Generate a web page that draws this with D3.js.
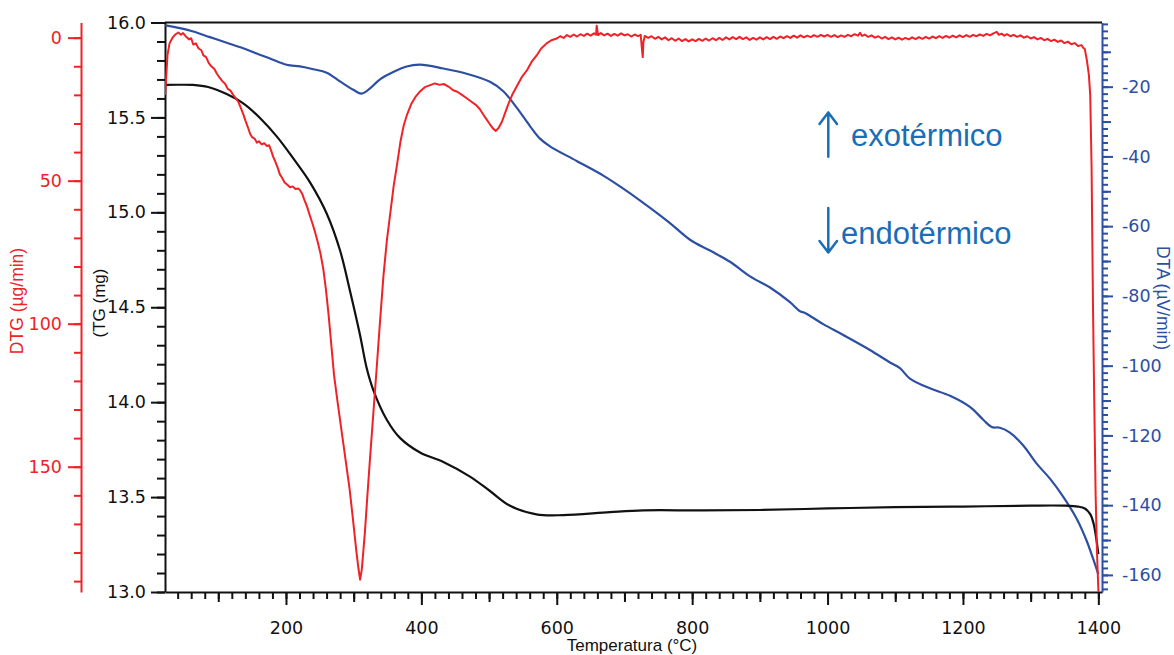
<!DOCTYPE html>
<html>
<head>
<meta charset="utf-8">
<script src="https://cdn.jsdelivr.net/npm/d3@7"></script>
<style>
  body { margin: 0; background: #fff; }
  svg { display: block; }
</style>
</head>
<body>
<svg id="chart" width="1174" height="655"></svg>
<script>
// Thermal analysis: TG (mass), DTG (mass-loss rate) and DTA vs temperature

// TG curve: [temperature °C, mass mg]
const tgCurve = [
  [21.3, 15.671], [40, 15.672], [62.6, 15.671], [85, 15.660], [112.4, 15.623],
  [136.9, 15.574], [161.6, 15.497], [186.3, 15.400], [210.8, 15.284], [235.5, 15.158],
  [260.1, 14.994], [279.8, 14.800], [294.5, 14.587], [309.3, 14.355], [319.2, 14.180],
  [329, 14.064], [348.7, 13.909], [368.4, 13.812], [398, 13.735], [432.5, 13.685],
  [471.8, 13.608], [501.3, 13.532], [531, 13.454], [570, 13.409], [609.6, 13.405],
  [678.6, 13.421], [727.8, 13.430], [811.5, 13.430], [900, 13.432], [1000, 13.440],
  [1100, 13.447], [1200, 13.450], [1300, 13.455], [1350, 13.455], [1370, 13.450],
  [1380, 13.440], [1388, 13.410], [1393, 13.360], [1397, 13.280], [1400, 13.200]
];

// DTG curve: [temperature °C, rate µg/min] (axis drawn increasing downwards)
const dtgCurve = [
  [21.5, 20], [23, 14], [25, 6], [28, 2], [33, -0.2], [37, -1.2], [41, -1.8], [45, -1.0],
  [48, -1.6], [53, -0.2], [57, 0.6], [60, 0.2], [63, 2.4], [67, 2.0], [71, 3.8], [75, 4.4],
  [78, 6.2], [82, 6.8], [86, 8.9], [90, 10.1], [94, 10.9], [98, 12.6], [102, 14], [106, 15.2],
  [110, 16.1], [114, 17.9], [118, 18.5], [122, 20.0], [126, 21.2], [130, 22.6], [134, 25.0],
  [137, 26.8], [140, 28.9], [144, 31.5], [147, 33.6], [150, 34.8], [154, 35.4], [157, 36.7],
  [160, 36.2], [164, 37.3], [168, 36.9], [172, 37.9], [175, 37.6], [178, 39.4], [181, 41.6],
  [184, 43.2], [188, 45.6], [191, 47.8], [194, 48.9], [198, 50.6], [202, 51.4], [206, 52.3],
  [210, 52.0], [214, 52.9], [218, 52.7], [221, 53.4], [224, 54.6], [227, 56.6], [231, 59.0],
  [235, 62.0], [239, 64.9], [243, 68.0], [247, 71.5], [251, 75.5], [255, 80.7], [259, 88.0],
  [263, 97.0], [267, 107.5], [271, 118], [276, 127], [282, 137.3], [288, 147.5], [294, 157.8],
  [299, 168.5], [304, 179.6], [307, 185.5], [309.5, 189.5], [312, 186], [316.5, 173.2],
  [320, 161], [324, 147.6], [329, 131.5], [334, 115.5], [339, 99], [344, 83.3], [349, 71],
  [354, 61.5], [359, 52], [364, 44.5], [369, 36.5], [374, 30.6], [379, 26.8], [385, 23.2],
  [391, 20.8], [398, 18.8], [405, 17.3], [413, 16.6], [420, 16.0], [427, 16.5], [433, 16.2],
  [440, 17.1], [447, 18.4], [453, 18.9], [460, 20.0], [467, 21.2], [474, 22.4], [481, 23.6],
  [487, 25.2], [494, 27.8], [501, 30.2], [506, 31.8], [510, 32.6], [514, 31.6], [519, 29.4],
  [524, 26.1], [529, 22.9], [535, 19.6], [541, 17.0], [548, 13.9], [556, 11.4], [563, 8.4],
  [570, 6.3], [577, 3.8], [585, 2.0], [592, 0.9],
  [600, 0.3], [605, -0.5], [610, 0.1], [615, -0.9], [620, -0.3], [625, -1.1], [630, -0.4],
  [635, -1.2], [640, -0.6], [645, -1.4], [650, -0.7], [655, -1.5], [658, -1.0], [659, -4.2],
  [661, -0.9], [665, -1.6], [670, -0.8], [675, -1.4], [680, -0.6], [685, -1.3], [690, -0.7],
  [695, -1.5], [700, -0.8], [705, -1.2], [710, -0.4], [715, -1.1], [720, -0.5], [724, -1.0],
  [726, 4.5], [727, 6.8], [728, 1.5], [730, -0.6], [735, 0.1], [740, -0.5], [745, 0.4],
  [750, -0.3], [755, 0.6], [760, -0.1], [765, 0.9], [770, 0.2], [775, 1.1], [780, 0.3],
  [785, 1.2], [790, 0.5], [795, 1.3], [800, 0.6], [805, 1.2], [810, 0.4], [815, 1.1],
  [820, 0.3], [825, 1.0], [830, 0.2], [835, 0.9], [840, 0.1], [845, 0.8], [850, -0.1],
  [855, 0.6], [860, -0.2], [865, 0.5], [870, -0.3], [875, 0.5], [880, -0.1], [885, 0.8],
  [890, 0.1], [895, 0.7], [900, -0.1], [905, 0.6], [910, -0.2], [915, 0.5], [920, -0.3],
  [925, 0.4], [930, -0.4], [935, 0.2], [940, -0.5], [945, 0.1], [950, -0.7], [955, 0.0],
  [960, -0.8], [965, -0.1], [970, -0.7], [975, -0.2], [980, -0.9], [985, -0.3], [990, -1.0],
  [995, -0.4], [1000, -1.0], [1005, -0.3], [1010, -0.9], [1015, -0.2], [1020, -0.8],
  [1025, -0.3], [1030, -1.0], [1035, -0.5], [1040, -1.2], [1045, -0.7], [1048, -1.7],
  [1051, -0.6], [1055, -1.1], [1060, -0.3], [1065, -0.8], [1070, 0.0], [1075, -0.5],
  [1080, 0.3], [1085, -0.3], [1090, 0.5], [1095, -0.1], [1100, 0.6], [1105, 0.0], [1110, 0.7],
  [1115, 0.1], [1120, 0.6], [1125, -0.1], [1130, 0.5], [1135, -0.2], [1140, 0.4], [1145, -0.3],
  [1150, 0.3], [1155, -0.4], [1160, 0.2], [1165, -0.5], [1170, 0.1], [1175, -0.6], [1180, 0.0],
  [1185, -0.7], [1190, -0.1], [1195, -0.8], [1200, -0.2], [1205, -0.9], [1210, -0.3],
  [1215, -1.0], [1220, -0.5], [1225, -1.1], [1230, -0.6], [1235, -1.3], [1240, -0.8],
  [1245, -1.5], [1250, -2.0], [1253, -1.0], [1257, -1.4], [1261, -0.7], [1265, -1.2],
  [1270, -0.5], [1275, -1.0], [1280, -0.3], [1285, -0.8], [1290, 0.0], [1295, -0.5],
  [1300, 0.3], [1305, -0.2], [1310, 0.6], [1315, 0.1], [1320, 0.9], [1325, 0.4], [1330, 1.2],
  [1335, 0.7], [1340, 1.5], [1345, 1.0], [1350, 1.9], [1355, 1.4], [1360, 2.3], [1365, 1.9],
  [1370, 2.9], [1375, 2.6], [1378, 3.6], [1380, 4.0],
  [1383, 7.8], [1386, 13], [1388, 20], [1390, 45], [1392, 92], [1394, 128], [1396, 160],
  [1398, 180], [1400.5, 196]
];

// DTA curve: [temperature °C, signal µV/min]
const dtaCurve = [
  [21.3, -2.4], [43.4, -3.2], [63.1, -4.2], [87.7, -5.8], [112.4, -7.4], [136.9, -9.0],
  [156.7, -10.5], [176.4, -11.9], [201, -13.7], [220.7, -14.2], [240.3, -15.0], [260.1, -16.0],
  [279.8, -18.5], [299.4, -20.9], [311.8, -22.0], [324.1, -20.5], [338.9, -17.9],
  [358.5, -15.8], [378.3, -14.2], [398, -13.7], [432.4, -14.8], [466.9, -16.3],
  [501.3, -18.6], [521, -21.3], [540.8, -26], [560.4, -31.3], [575.2, -34.9], [590, -37.1],
  [629.4, -41.3], [668.7, -45.5], [693.4, -48.6], [727.8, -53.3], [767.2, -59.1],
  [796.8, -63.9], [826.4, -67], [855.9, -70.2], [885.5, -74.4], [915, -77.6], [944.5, -81.8],
  [959.3, -84.4], [966.7, -84.9], [993.6, -88.1], [1023.2, -91.2], [1062.6, -95.5],
  [1092.2, -99.1], [1106.9, -100.7], [1121.7, -103.7], [1151.2, -106.5], [1180.8, -108.6],
  [1210.3, -111.8], [1230, -115.5], [1242.4, -117.6], [1254.7, -117.8], [1269.4, -119.2],
  [1289.1, -122.9], [1308.9, -128.1], [1328.5, -132.4], [1348.2, -137.6], [1368, -143.9],
  [1382.7, -150.2], [1392.5, -155.5], [1399.9, -159.8]
];

// Axis tick values
const tempTicks = [200, 400, 600, 800, 1000, 1200, 1400];
const tgTicks = [13.0, 13.5, 14.0, 14.5, 15.0, 15.5, 16.0];
const dtgTicks = [0, 50, 100, 150];
const dtaTicks = [-20, -40, -60, -80, -100, -120, -140, -160];

// Text
const xTitle = "Temperatura (°C)";
const tgTitle = "(TG (mg)";
const dtgTitle = "DTG (µg/min)";
const dtaTitle = "DTA (µV/min)";
const exoLabel = "exotérmico";
const endoLabel = "endotérmico";

// Colours
const RED = "#ee2227";
const BLACK = "#111111";
const BLUE = "#2d4fa3";
const NOTE = "#1b6db6";

const plot = { left: 165, right: 1102, top: 22.5, bottom: 592 };

const svg = d3.select("#chart");
svg.append("rect").attr("width", 1174).attr("height", 655).attr("fill", "#fff");

const x = d3.scaleLinear().domain([21.3, 1405.4]).range([plot.left, plot.right]);
const yTG = d3.scaleLinear().domain([13, 16]).range([plot.bottom, plot.top]);
const yDTG = d3.scaleLinear().domain([-5.3, 193.8]).range([plot.top, plot.bottom]);
const yDTA = d3.scaleLinear().domain([-1.6, -164.9]).range([plot.top, plot.bottom]);

const tickFont = "'DejaVu Sans', sans-serif";
const titleFont = "'Liberation Sans', Arial, sans-serif";

function styleAxis(g, color, showDomain) {
  g.selectAll("path.domain")
    .attr("stroke", color).attr("stroke-width", 2)
    .attr("display", showDomain ? null : "none");
  g.selectAll(".tick line").attr("stroke", color).attr("stroke-width", 2);
  g.selectAll(".tick text")
    .attr("fill", color).style("font-family", tickFont).style("font-size", "17.5px");
}

// ---- X axis (temperature) ----
const xMinor = svg.append("g").attr("transform", `translate(0,${plot.bottom})`)
  .call(d3.axisBottom(x).tickValues(d3.range(40, 1401, 20)).tickSize(7).tickSizeOuter(0).tickFormat(""));
styleAxis(xMinor, BLACK, false);
const xMid = svg.append("g").attr("transform", `translate(0,${plot.bottom})`)
  .call(d3.axisBottom(x).tickValues(d3.range(100, 1401, 200)).tickSize(10).tickSizeOuter(0).tickFormat(""));
styleAxis(xMid, BLACK, false);
const xMajor = svg.append("g").attr("transform", `translate(0,${plot.bottom})`)
  .call(d3.axisBottom(x).tickValues(tempTicks).tickSize(13).tickSizeOuter(0).tickPadding(17)
    .tickFormat(d => String(d)));
styleAxis(xMajor, BLACK, true);

// ---- TG axis (left, inner) ----
const tgMinor = svg.append("g").attr("transform", `translate(${plot.left},0)`)
  .call(d3.axisLeft(yTG).tickValues(d3.range(13, 16.001, 0.1)).tickSize(8).tickSizeOuter(0).tickFormat(""));
styleAxis(tgMinor, BLACK, false);
const tgMajor = svg.append("g").attr("transform", `translate(${plot.left},0)`)
  .call(d3.axisLeft(yTG).tickValues(tgTicks).tickSize(14).tickSizeOuter(0).tickPadding(5)
    .tickFormat(d3.format(".1f")));
styleAxis(tgMajor, BLACK, true);

// ---- DTG axis (left, outer) ----
const dtgX = 81;
const dtgMinor = svg.append("g").attr("transform", `translate(${dtgX},0)`)
  .call(d3.axisLeft(yDTG).tickValues(d3.range(0, 191, 10)).tickSize(7).tickSizeOuter(0).tickFormat(""));
styleAxis(dtgMinor, RED, false);
const dtgMajor = svg.append("g").attr("transform", `translate(${dtgX},0)`)
  .call(d3.axisLeft(yDTG).tickValues(dtgTicks).tickSize(13).tickSizeOuter(0).tickPadding(6)
    .tickFormat(d => String(d)));
styleAxis(dtgMajor, RED, true);

// ---- DTA axis (right) ----
const dtaMinor = svg.append("g").attr("transform", `translate(${plot.right},0)`)
  .call(d3.axisRight(yDTA).tickValues(d3.range(-2, -165, -2)).tickSize(6).tickSizeOuter(0).tickFormat(""));
styleAxis(dtaMinor, BLUE, false);
const dtaMid = svg.append("g").attr("transform", `translate(${plot.right},0)`)
  .call(d3.axisRight(yDTA).tickValues(d3.range(-10, -165, -20)).tickSize(9).tickSizeOuter(0).tickFormat(""));
styleAxis(dtaMid, BLUE, false);
const dtaMajor = svg.append("g").attr("transform", `translate(${plot.right},0)`)
  .call(d3.axisRight(yDTA).tickValues(dtaTicks).tickSize(11).tickSizeOuter(0).tickPadding(9)
    .tickFormat(d => String(d)));
styleAxis(dtaMajor, BLUE, true);

// Top frame line
svg.append("line")
  .attr("x1", plot.left).attr("x2", plot.right)
  .attr("y1", plot.top).attr("y2", plot.top)
  .attr("stroke", BLACK).attr("stroke-width", 2);

// ---- Curves ----
svg.append("clipPath").attr("id", "plotClip")
  .append("rect")
  .attr("x", plot.left).attr("y", plot.top)
  .attr("width", plot.right - plot.left).attr("height", plot.bottom - plot.top);

const curves = svg.append("g").attr("clip-path", "url(#plotClip)");

curves.append("path")
  .datum(dtaCurve)
  .attr("fill", "none").attr("stroke", BLUE).attr("stroke-width", 2.2)
  .attr("stroke-linejoin", "round")
  .attr("d", d3.line().x(d => x(d[0])).y(d => yDTA(d[1])).curve(d3.curveCatmullRom));

curves.append("path")
  .datum(tgCurve)
  .attr("fill", "none").attr("stroke", BLACK).attr("stroke-width", 2.2)
  .attr("stroke-linejoin", "round")
  .attr("d", d3.line().x(d => x(d[0])).y(d => yTG(d[1])).curve(d3.curveCatmullRom));

curves.append("path")
  .datum(dtgCurve)
  .attr("fill", "none").attr("stroke", RED).attr("stroke-width", 2)
  .attr("stroke-linejoin", "round")
  .attr("d", d3.line().x(d => x(d[0])).y(d => yDTG(d[1])));

// ---- Axis titles ----
svg.append("text")
  .attr("transform", "translate(632,651)")
  .attr("text-anchor", "middle")
  .style("font-family", titleFont).style("font-size", "17px")
  .attr("fill", BLACK).text(xTitle);

svg.append("text")
  .attr("transform", "translate(23,301) rotate(-90)")
  .attr("text-anchor", "middle")
  .style("font-family", titleFont).style("font-size", "17.5px")
  .attr("fill", RED).text(dtgTitle);

svg.append("text")
  .attr("transform", "translate(105,303) rotate(-90)")
  .attr("text-anchor", "middle")
  .style("font-family", titleFont).style("font-size", "17px")
  .attr("fill", BLACK).text(tgTitle);

svg.append("text")
  .attr("transform", "translate(1157,298) rotate(90)")
  .attr("text-anchor", "middle")
  .style("font-family", titleFont).style("font-size", "17.5px")
  .attr("fill", BLUE).text(dtaTitle);

// ---- Exo / endo annotation ----
const note = svg.append("g");
note.append("path")
  .attr("d", "M828.3,156.7 V112.5 M819.5,124 L828.3,112.5 L837,124")
  .attr("fill", "none").attr("stroke", NOTE).attr("stroke-width", 2.5)
  .attr("stroke-linecap", "round").attr("stroke-linejoin", "round");
note.append("text")
  .attr("x", 851).attr("y", 146)
  .style("font-family", titleFont).style("font-size", "31px")
  .attr("fill", NOTE).text(exoLabel);

note.append("path")
  .attr("d", "M828.3,208 V252.5 M819.5,241 L828.3,252.5 L837,241")
  .attr("fill", "none").attr("stroke", NOTE).attr("stroke-width", 2.5)
  .attr("stroke-linecap", "round").attr("stroke-linejoin", "round");
note.append("text")
  .attr("x", 841).attr("y", 243.5)
  .style("font-family", titleFont).style("font-size", "31px")
  .attr("fill", NOTE).text(endoLabel);
</script>
</body>
</html>
